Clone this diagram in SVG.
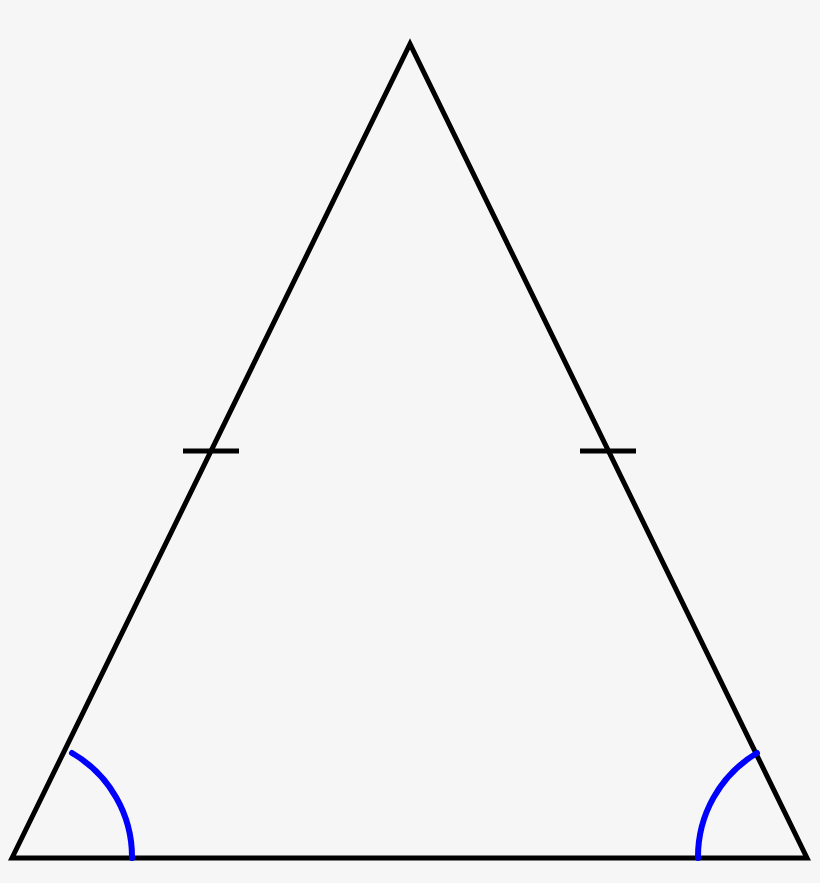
<svg xmlns="http://www.w3.org/2000/svg" width="820" height="883" viewBox="0 0 820 883">
<style>
.edge{fill:none;stroke:#000;stroke-width:5;stroke-linejoin:miter;stroke-miterlimit:10}
.tick{fill:none;stroke:#000;stroke-width:5}
.angle{fill:none;stroke:#0000ff;stroke-width:6;stroke-linecap:round}
</style>
<rect width="820" height="883" fill="#f6f6f6"/>
<g id="triangle">
<path class="edge" d="M12,858 L410,44 L807,858 Z"/>
</g>
<g id="ticks">
<line class="tick" x1="183" y1="451" x2="239" y2="451"/>
<line class="tick" x1="580" y1="451" x2="636" y2="451"/>
</g>
<g id="angles">
<path class="angle" d="M72,753 A120,120 0 0 1 132,858"/>
<path class="angle" d="M757,753 A121,121 0 0 0 698,858"/>
</g>
</svg>
